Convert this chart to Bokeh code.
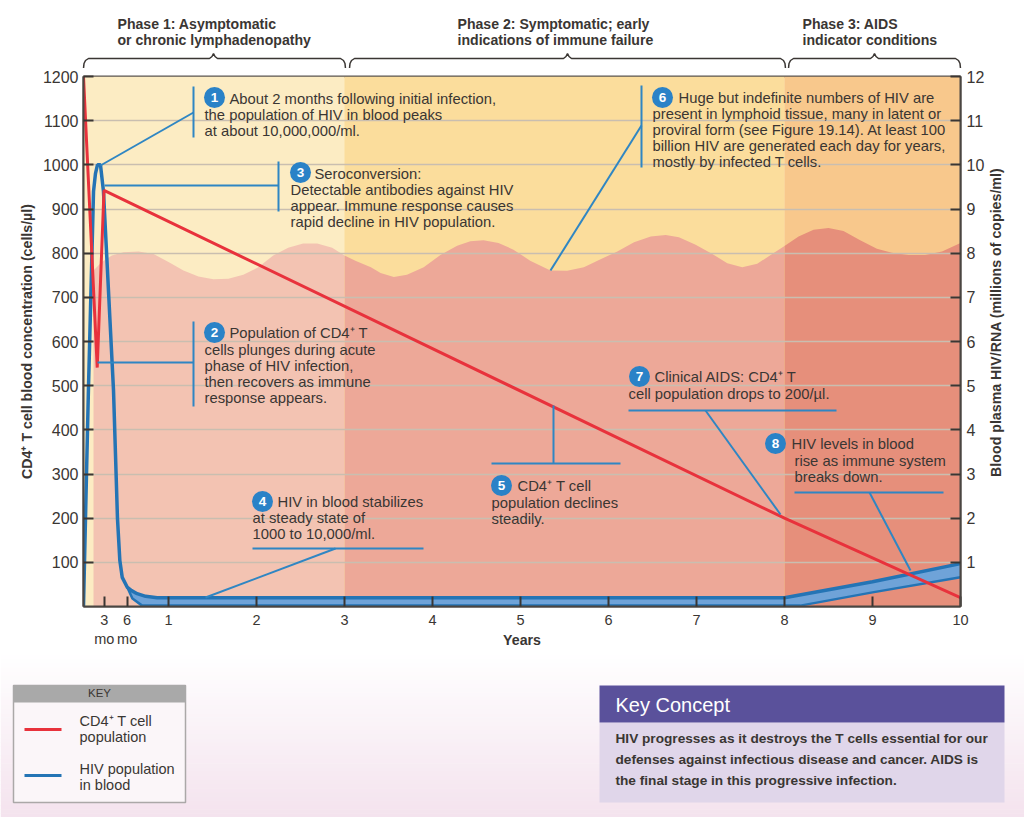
from bokeh.plotting import figure
from bokeh.layouts import column, row
from bokeh.embed import file_html
from bokeh.resources import INLINE
from bokeh.models import Range1d, LinearAxis, FixedTicker, Label
import math

FONT = "Liberation Sans"
INK = "#3a3633"
BLUE = "#2474B5"
LEADER = "#2F86C3"
RED = "#E8323C"

year_ticks = [0.27, 0.53, 1, 2, 3, 4, 5, 6, 7, 8, 9, 10]
year_labels = ["3\nmo", "6\nmo", "1", "2", "3", "4", "5", "6", "7", "8", "9", "10"]
cd4_ticks = [100, 200, 300, 400, 500, 600, 700, 800, 900, 1000, 1100, 1200]
hiv_ticks = [1, 2, 3, 4, 5, 6, 7, 8, 9, 10, 11, 12]

cd4_x = [0.034, 0.19, 0.267, 8.0, 10.0]
cd4_y = [1200, 541, 942, 200, 20]

hiv_upper_x = [0.034, 0.09, 0.148, 0.17, 0.193, 0.227, 0.261, 0.375, 0.42, 0.447, 0.474, 0.53, 0.58, 0.644, 0.74, 0.871, 8.0, 9.0, 10.0]
hiv_upper_y = [0.0, 4.9, 9.4, 9.8, 10.0, 10.0, 9.4, 4.9, 2.0, 1.04, 0.66, 0.44, 0.36, 0.29, 0.23, 0.20, 0.20, 0.56, 0.97]
hiv_lower_x = [0.53, 0.59, 0.70, 8.18, 9.0, 10.0]
hiv_lower_y = [0.44, 0.18, 0.02, 0.02, 0.32, 0.66]

wave_x = [0.148, 0.242, 0.356, 0.489, 0.659, 0.83, 1.0, 1.17, 1.34, 1.51, 1.68, 1.85, 2.02, 2.19, 2.36, 2.53, 2.69, 2.86,
          3.0, 3.13, 3.3, 3.41, 3.56, 3.71, 3.9, 4.09, 4.28, 4.43, 4.58, 4.75, 4.92, 5.11, 5.34, 5.53, 5.72, 5.91, 6.1,
          6.29, 6.48, 6.65, 6.8, 6.99, 7.18, 7.35, 7.52, 7.69, 7.86, 8.0, 8.16, 8.33, 8.5, 8.67, 8.86, 9.05, 9.22, 9.41,
          9.6, 9.79, 10.0]
wave_y = [761, 780, 795, 802, 804, 798, 780, 761, 747, 741, 742, 751, 768, 795, 812, 822, 822, 812,
          795, 782, 768, 755, 746, 751, 768, 796, 817, 827, 829, 823, 808, 783, 761, 760, 768, 786, 804,
          825, 838, 841, 836, 819, 798, 777, 768, 776, 798, 816, 838, 853, 857, 850, 829, 810, 801, 796,
          796, 804, 823]

phase_edges = [0.0, 3.0, 8.0, 10.0]
upper_colors = ["#FCECC3", "#FBDD9C", "#F8C88C"]
lower_colors = ["#F3C3B2", "#EDA898", "#E68F7B"]


def dx(px):
    return (px - 80) / 88.0


def dy(py):
    return (606 - py) * 1200 / 530.0


p = figure(width=985, height=582, frame_width=877, frame_height=530,
           x_range=Range1d(3 / 88.0, 10), y_range=Range1d(0, 1200),
           output_backend="svg", toolbar_location=None, tools="",
           min_border_left=83, min_border_right=25, min_border_top=8, min_border_bottom=44,
           background_fill_color="#FCECC3", border_fill_color="#FFFFFF",
           outline_line_color="#5a5550", outline_line_width=2)
p.extra_y_ranges = {"hiv": Range1d(0, 12)}

for i in range(3):
    lo, hi = phase_edges[i], phase_edges[i + 1]
    p.quad(left=lo, right=hi, bottom=0, top=1200, fill_color=upper_colors[i], line_color=None, level="image")
    xs = [x for x in wave_x if lo <= x <= hi]
    ys = [y for x, y in zip(wave_x, wave_y) if lo <= x <= hi]
    p.varea(x=xs, y1=[0] * len(xs), y2=ys, fill_color=lower_colors[i], level="image")

p.xgrid.visible = False
p.ygrid.ticker = FixedTicker(ticks=cd4_ticks)
p.ygrid.grid_line_color = "#C9BEB0"
p.ygrid.grid_line_width = 1.5
p.ygrid.level = "underlay"

xa = p.xaxis[0]
xa.ticker = FixedTicker(ticks=year_ticks)
xa.major_label_overrides = {t: s for t, s in zip(year_ticks, year_labels)}
xa.axis_label = "Years"
xa.axis_label_standoff = -18

ya = p.yaxis[0]
ya.ticker = FixedTicker(ticks=cd4_ticks)
ya.axis_label = "CD4\u207a T cell blood concentration (cells/\u00b5l)"
ya.axis_label_standoff = 5

ra = LinearAxis(y_range_name="hiv", ticker=FixedTicker(ticks=hiv_ticks))
p.add_layout(ra, "right")

for ax in (xa, ya, ra):
    ax.major_tick_in = 10
    ax.major_tick_out = 0
    ax.minor_tick_line_color = None
    ax.major_tick_line_color = "#3a3633"
    ax.major_tick_line_width = 2
    ax.axis_line_color = "#4a4642"
    ax.axis_line_width = 2
    ax.major_label_text_font = FONT
    ax.major_label_text_font_size = "16px"
    ax.major_label_text_color = INK
    ax.axis_label_text_font = FONT
    ax.axis_label_text_font_size = "14.2px"
    ax.axis_label_text_font_style = "bold"
    ax.axis_label_text_color = INK
xa.major_label_text_font_size = "14.5px"
xa.major_label_standoff = 5
ya.major_label_standoff = 5
ra.major_label_standoff = 6

band = [i for i, x in enumerate(hiv_upper_x) if x >= hiv_lower_x[0]]
band_x = [hiv_upper_x[i] for i in band]
band_y = [hiv_upper_y[i] for i in band]
p.patch(x=band_x + hiv_lower_x[::-1], y=band_y + hiv_lower_y[::-1], y_range_name="hiv",
        fill_color="#6FA3D8", line_color=None)
p.line(x=hiv_lower_x, y=hiv_lower_y, y_range_name="hiv", line_color=BLUE, line_width=2.5)
p.line(x=hiv_upper_x, y=hiv_upper_y, y_range_name="hiv", line_color=BLUE, line_width=3.5)
p.line(x=cd4_x, y=cd4_y, line_color=RED, line_width=3)

leaders = [
    (193, 86, 193, 137), (193, 112, 100, 165),
    (278, 161, 278, 211), (278, 185, 104, 185),
    (193, 321, 193, 406), (193, 362, 97, 362),
    (641, 85, 641, 167), (641, 125, 550, 270),
    (252, 548, 423, 548), (335, 548, 205, 597),
    (491, 463, 620, 463), (553, 463, 553, 405),
    (628, 410, 836, 410), (705, 410, 780, 514),
    (794, 492, 943, 492), (869, 492, 910, 570),
]
p.segment(x0=[dx(a) for a, _, _, _ in leaders], y0=[dy(b) for _, b, _, _ in leaders],
          x1=[dx(c) for _, _, c, _ in leaders], y1=[dy(d) for _, _, _, d in leaders],
          line_color=LEADER, line_width=2)

badges = [(1, 214, 97), (2, 214, 332), (3, 300, 172), (4, 262, 501), (5, 501, 485), (6, 662, 97), (7, 639, 376), (8, 775, 443)]
p.scatter(x=[dx(b[1]) for b in badges], y=[dy(b[2]) for b in badges], size=21, marker="circle",
          fill_color="#2A82C7", line_color=None)


def T(fig, x, y, text, size=14.8, bold=False, color=INK, align="left", angle=0):
    fig.add_layout(Label(x=x, y=y, text=text, text_font=FONT, text_font_size=f"{size}px",
                         text_font_style="bold" if bold else "normal", text_color=color,
                         text_align=align, text_baseline="middle", angle=angle))


for b in badges:
    T(p, dx(b[1]), dy(b[2]), str(b[0]), size=13.5, bold=True, color="#FFFFFF", align="center")

notes = [
    (229, 98, "About 2 months following initial infection,"),
    (204, 114, "the population of HIV in blood peaks"),
    (204, 130, "at about 10,000,000/ml."),
    (314, 173, "Seroconversion:"),
    (290, 189, "Detectable antibodies against HIV"),
    (290, 205, "appear. Immune response causes"),
    (290, 221, "rapid decline in HIV population."),
    (678, 97, "Huge but indefinite numbers of HIV are"),
    (652, 113, "present in lymphoid tissue, many in latent or"),
    (652, 129, "proviral form (see Figure 19.14). At least 100"),
    (652, 145, "billion HIV are generated each day for years,"),
    (652, 161, "mostly by infected T cells."),
    (229, 332, "Population of CD4\u207a T"),
    (204, 349, "cells plunges during acute"),
    (204, 365, "phase of HIV infection,"),
    (204, 381, "then recovers as immune"),
    (204, 397, "response appears."),
    (277, 501, "HIV in blood stabilizes"),
    (252, 517, "at steady state of"),
    (252, 533, "1000 to 10,000/ml."),
    (517, 485, "CD4\u207a T cell"),
    (491, 502, "population declines"),
    (491, 518, "steadily."),
    (654, 376, "Clinical AIDS: CD4\u207a T"),
    (628, 393, "cell population drops to 200/\u00b5l."),
    (791, 443, "HIV levels in blood"),
    (794, 460, "rise as immune system"),
    (794, 476, "breaks down."),
]
for x, y, s in notes:
    T(p, dx(x), dy(y), s)

# strip to the right of the plot, holding the right axis title: page pixels
side = figure(width=39, height=582, x_range=Range1d(985, 1024), y_range=Range1d(650, 68),
              x_axis_type=None, y_axis_type=None, output_backend="svg", toolbar_location=None, tools="",
              min_border=0, outline_line_color=None, background_fill_color="#FFFFFF", border_fill_color="#FFFFFF")
side.grid.visible = False
T(side, 993, 338, "Blood plasma HIV/RNA (millions of copies/ml)", size=14.2, bold=True, align="center", angle=math.pi / 2)

# header strip: page pixels
head = figure(width=1024, height=68, x_range=Range1d(0, 1024), y_range=Range1d(68, 0),
              x_axis_type=None, y_axis_type=None, output_backend="svg", toolbar_location=None, tools="",
              min_border=0, outline_line_color=None, background_fill_color="#FFFFFF", border_fill_color="#FFFFFF")
head.grid.visible = False
for x, y, s in [(117, 23, "Phase 1: Asymptomatic"), (117, 39, "or chronic lymphadenopathy"),
                (457, 23, "Phase 2: Symptomatic; early"), (457, 39, "indications of immune failure"),
                (802, 23, "Phase 3: AIDS"), (802, 39, "indicator conditions")]:
    T(head, x, y, s, size=14.1, bold=True)

for l, r, m in [(83, 345, 213), (349, 785, 567), (788, 960, 874)]:
    head.line(x=[l, l + 0.5, l + 2, l + 5, m - 4, m - 1.5, m, m + 1.5, m + 4, r - 5, r - 2, r - 0.5, r],
              y=[68, 63, 60, 58, 58, 56, 53, 56, 58, 58, 60, 63, 68],
              line_color="#3a3633", line_width=1.5)

# footer strip: page pixels
foot = figure(width=1024, height=167, x_range=Range1d(0, 1024), y_range=Range1d(817, 650),
              x_axis_type=None, y_axis_type=None, output_backend="svg", toolbar_location=None, tools="",
              min_border=0, outline_line_color=None, background_fill_color="#FFFFFF", border_fill_color="#FFFFFF")
foot.grid.visible = False
n = 40
tops = [650 + i * 167 / n for i in range(n)]
cols = ["#%02X%02X%02X" % (round(255 - 11 * i / (n - 1)), round(255 - 28 * i / (n - 1)), round(255 - 17 * i / (n - 1)))
        for i in range(n)]
foot.quad(left=0, right=1024, top=tops, bottom=[t + 167 / n + 0.5 for t in tops], fill_color=cols, line_color=None)


def box(l, t, r, b, fill, line=None, width=1):
    foot.quad(left=[l], right=[r], top=[t], bottom=[b], fill_color=fill, line_color=line, line_width=width)


box(13, 685, 185, 802, "#FBF6F9", line="#ABA8A8", width=1.5)
box(13, 685, 185, 702, "#A9A9A9")
T(foot, 99, 692, "KEY", size=11.5, align="center")
box(24, 727.5, 61, 730.5, RED)
box(24, 773.5, 61, 776.5, BLUE)
T(foot, 79, 720, "CD4\u207a T cell", size=14.5)
T(foot, 79, 736, "population", size=14.5)
T(foot, 79, 768, "HIV population", size=14.5)
T(foot, 79, 784, "in blood", size=14.5)

box(599, 722, 1004, 802, "#E0D6EA")
box(599, 685, 1004, 722, "#5A519B")
T(foot, 615, 704, "Key Concept", size=20, color="#FFFFFF")
T(foot, 615, 738, "HIV progresses as it destroys the T cells essential for our", size=13.65, bold=True)
T(foot, 615, 759, "defenses against infectious disease and cancer. AIDS is", size=13.65, bold=True)
T(foot, 615, 780, "the final stage in this progressive infection.", size=13.65, bold=True)

layout = column(row(head), row(p, side, spacing=0), row(foot), spacing=0)
open("out.html", "w").write(file_html(layout, INLINE))
